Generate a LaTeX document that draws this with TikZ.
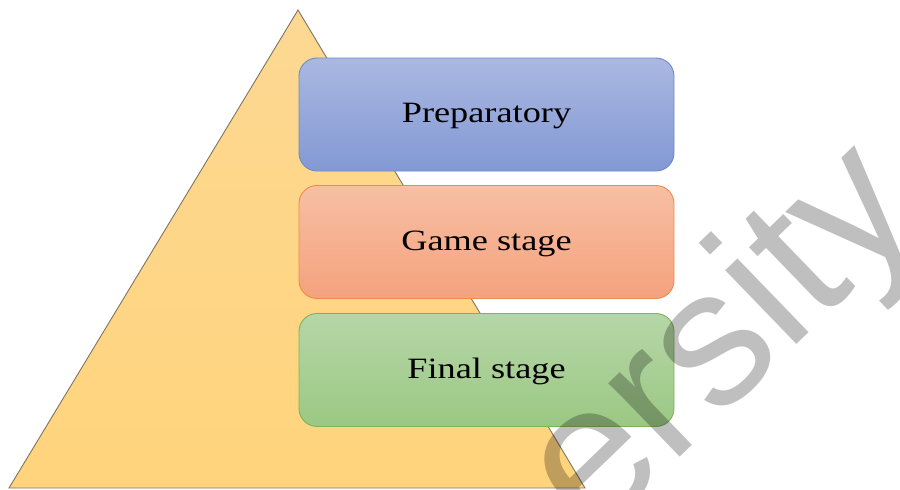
\documentclass[tikz,border=0pt]{standalone}
\usepackage{fontspec}
\setmainfont{Liberation Serif}
\newfontfamily\boxfont[FakeStretch=1.23]{Liberation Serif}
\newfontfamily\wmfont{Liberation Sans}
\definecolor{triTop}{HTML}{FDD893}
\definecolor{triBot}{HTML}{FFD47C}
\definecolor{triLine}{HTML}{7F7560}
\definecolor{blueTop}{HTML}{AAB8E1}
\definecolor{blueBot}{HTML}{8399D4}
\definecolor{blueLine}{HTML}{6A8BCB}
\definecolor{orTop}{HTML}{F7BFA3}
\definecolor{orBot}{HTML}{F5A27E}
\definecolor{orLine}{HTML}{EF8A4C}
\definecolor{grTop}{HTML}{B6D6A7}
\definecolor{grBot}{HTML}{9BC884}
\definecolor{grLine}{HTML}{7EB35C}
\begin{document}
\begin{tikzpicture}[x=1pt,y=-1pt,
  stagebox/.style={rectangle, rounded corners=18pt, line width=0.9pt,
    minimum width=375pt, minimum height=113pt, inner sep=0pt,
    text height=20pt, text depth=4pt,
    font=\boxfont\fontsize{29.5}{34}\selectfont, text=black}]
\useasboundingbox (0,0) rectangle (900,490);
\coordinate (apex) at (298,10);
\coordinate (bl) at (9,488);
\coordinate (br) at (585,488);
\path[draw=triLine, line width=0.9pt, top color=triTop, bottom color=triBot]
  (apex) -- (br) -- (bl) -- cycle;
\node[stagebox, draw=blueLine, top color=blueTop, bottom color=blueBot] (prep) at (486.5,114.5) {Preparatory};
\node[stagebox, draw=orLine, top color=orTop, bottom color=orBot] (game) at (486.5,242) {Game stage};
\node[stagebox, draw=grLine, top color=grTop, bottom color=grBot] (final) at (486.5,370) {Final stage};
\begin{scope}
  \clip (0,0) rectangle (900,490);
  \begin{scope}[blend mode=multiply]
    \node[rotate=44, anchor=base, text=black!25, inner sep=0pt,
      font=\wmfont\fontsize{194}{194}\selectfont] (wm) at (760,380) {ersity};
  \end{scope}
\end{scope}
\end{tikzpicture}
\end{document}
